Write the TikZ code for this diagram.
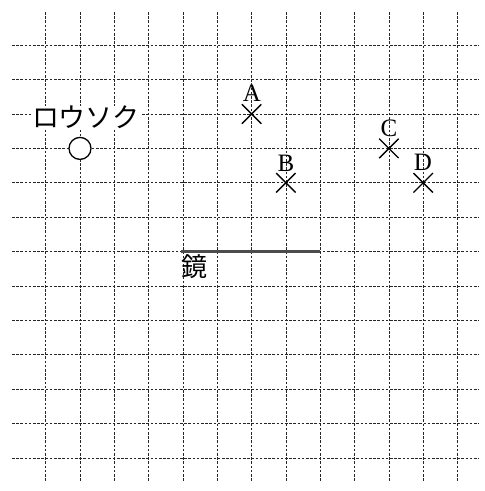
\documentclass[tikz,border=0pt]{standalone}
\usepackage{fontspec}
\setmainfont{Liberation Serif}
\newfontfamily\jpfont{Noto Sans CJK JP}
\usetikzlibrary{shapes.misc}
\tikzset{
  gridline/.style={black!85, line width=0.7pt, dash pattern=on 2.6pt off 1.6pt},
  xmark/.style={draw, cross out, minimum size=18pt, inner sep=0pt, line width=1.4pt},
  ptlabel/.style={font=\fontsize{25}{25}\selectfont, inner sep=0pt},
  jplabel/.style={font=\jpfont\fontsize{27}{27}\selectfont, inner sep=0pt},
}
\begin{document}
\begin{tikzpicture}[x=1pt,y=-1pt]
\useasboundingbox (0,0) rectangle (485,491);
\fill[white] (0,0) rectangle (485,491);
% grid
\foreach \k in {0,...,12}{
  \draw[gridline] ({45.7+34.32*\k},12) -- ({45.7+34.32*\k},481);
  \draw[gridline] (12,{45.2+34.4*\k}) -- (479,{45.2+34.4*\k});
}
% candle
\node[draw, circle, line width=1.3pt, minimum size=22pt, inner sep=0pt, fill=white] (candle) at (80,148.4) {};
\node[jplabel, fill=white, inner xsep=1pt] (candlelabel) at (86,117) {ロウソク};
% points
\node[xmark] (A) at (251.6,114) {};
\node[xmark] (B) at (285.9,182.8) {};
\node[xmark] (C) at (388.9,148.4) {};
\node[xmark] (D) at (423.2,182.8) {};
\node[ptlabel] (Al) at (252,93) {A};
\node[ptlabel] (Bl) at (286,163) {B};
\node[ptlabel] (Cl) at (389,128) {C};
\node[ptlabel] (Dl) at (423,162) {D};
% mirror
\coordinate (m1) at (181,251.6);
\coordinate (m2) at (320.2,251.6);
\draw[line width=2.8pt, black!70] (m1) -- (m2);
\node[font=\jpfont\fontsize{26}{26}\selectfont, inner sep=0pt] (mirrorlabel) at (194,267) {鏡};
\end{tikzpicture}
\end{document}
